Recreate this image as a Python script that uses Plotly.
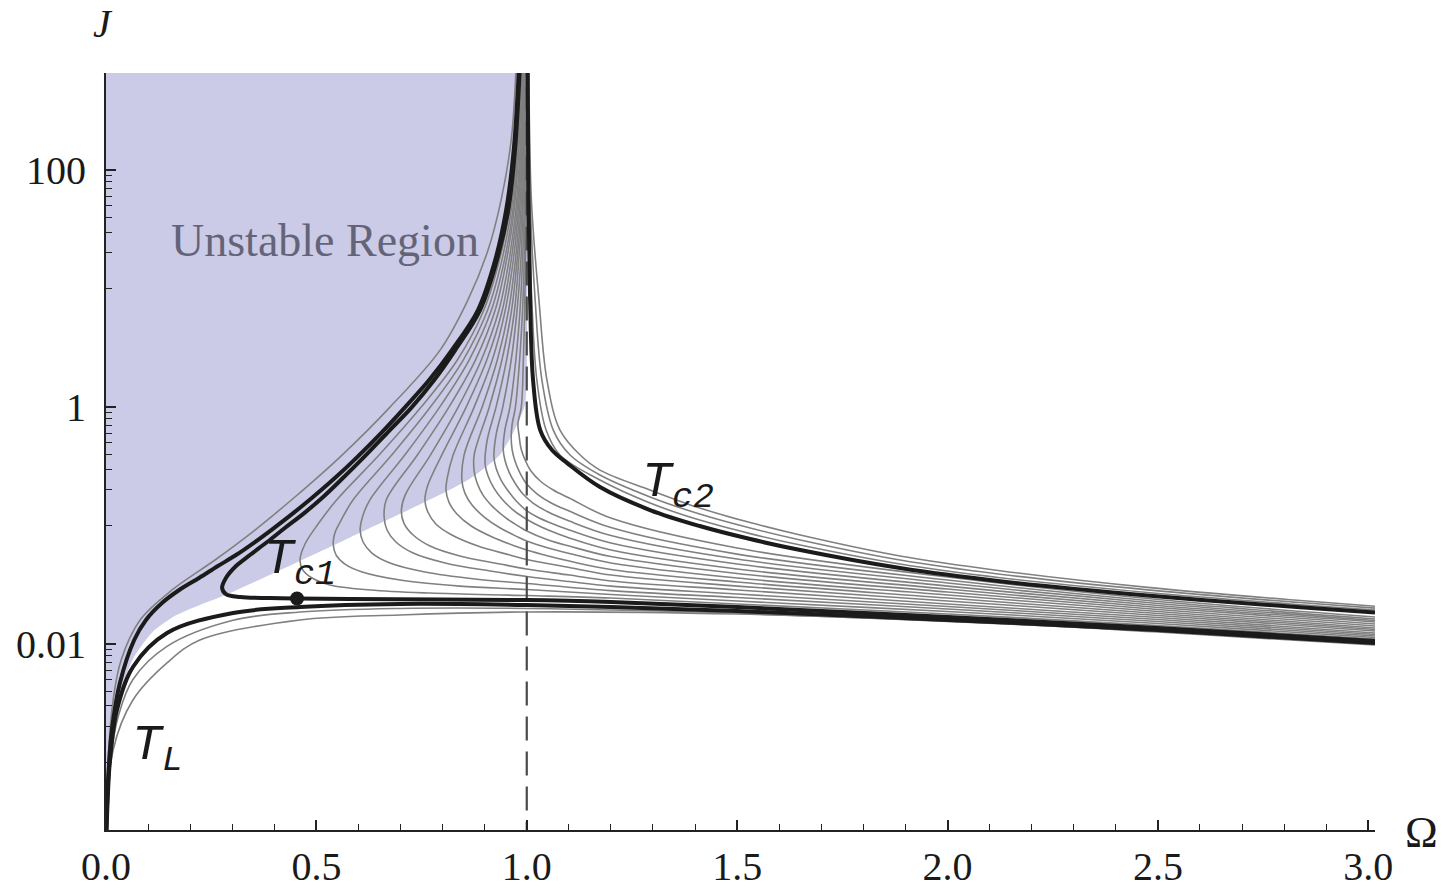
import plotly.graph_objects as go

# ---------------- data (Omega, log10 J) ----------------
# Shaded unstable region outline
unstable_omega = [0.0, 0.0, 0.010, 0.030, 0.065, 0.110, 0.165, 0.223, 0.288, 0.580, 0.858, 0.937, 0.977, 0.996, 1.0, 1.0]
unstable_log10J = [2.9, -3.25, -2.85, -2.45, -2.12, -1.90, -1.76, -1.67, -1.58, -1.10, -0.62, -0.40, -0.15, 0.02, 0.3, 2.9]

# T_L curve (thick): upper branch and lower branch, both from the origin
tl_up_omega = [0.982, 0.969, 0.951, 0.925, 0.884, 0.822, 0.768, 0.711, 0.656, 0.597, 0.544, 0.492, 0.445,
               0.399, 0.354, 0.309, 0.266, 0.221, 0.174, 0.133, 0.095, 0.067, 0.033, 0.014, 0.005, 0.0]
tl_up_log10J = [2.9, 2.169, 1.662, 1.241, 0.819, 0.481, 0.228, 0.0, -0.211, -0.422, -0.599, -0.759, -0.895,
                -1.021, -1.139, -1.249, -1.342, -1.443, -1.544, -1.654, -1.797, -1.966, -2.329, -2.726, -3.148, -3.7]
tl_low_omega = [0.0, 0.005, 0.0095, 0.026, 0.064, 0.145, 0.302, 0.461, 0.699, 1.0, 1.2, 1.5, 2.0, 2.5, 3.016]
tl_low_log10J = [-3.7, -3.232, -2.979, -2.557, -2.194, -1.907, -1.738, -1.688, -1.662, -1.671, -1.688, -1.722, -1.797, -1.882, -1.992]

# T_c1 curve (thick, C-shaped)
tc1_omega = [0.984, 0.972, 0.956, 0.929, 0.889, 0.830, 0.780, 0.727, 0.670, 0.613, 0.563, 0.516, 0.471, 0.425,
             0.383, 0.342, 0.309, 0.285, 0.276,
             0.285, 0.319, 0.390, 0.454, 0.580, 1.0, 1.2, 1.5, 2.0, 2.5, 3.016]
tc1_log10J = [2.9, 2.169, 1.662, 1.241, 0.819, 0.481, 0.228, 0.0, -0.211, -0.422, -0.599, -0.759, -0.895, -1.021,
              -1.139, -1.249, -1.342, -1.443, -1.527,
              -1.578, -1.603, -1.612, -1.616, -1.620, -1.629, -1.646, -1.688, -1.772, -1.865, -1.975]
tc1_point_omega = [0.454]
tc1_point_log10J = [-1.616]

# T_c2 curve (thick, right of Omega = 1)
tc2_omega = [1.002, 1.004, 1.008, 1.015, 1.032, 1.060, 1.096, 1.174, 1.293, 1.411, 1.531, 1.650, 1.887, 2.125, 2.482, 2.838, 3.016]
tc2_log10J = [2.9, 1.747, 0.903, 0.228, -0.194, -0.363, -0.473, -0.675, -0.869, -1.004, -1.114, -1.207, -1.359, -1.470, -1.592, -1.690, -1.735]

# gray curves from the origin
gup1_omega = [0.975, 0.963, 0.939, 0.908, 0.860, 0.794, 0.675, 0.556, 0.449, 0.354, 0.259, 0.157, 0.081, 0.036, 0.017, 0.005, 0.0]
gup1_log10J = [2.9, 2.253, 1.747, 1.325, 0.903, 0.481, 0.0, -0.422, -0.759, -1.038, -1.291, -1.544, -1.797, -2.135, -2.473, -2.979, -3.7]
glow1_omega = [0.0, 0.017, 0.064, 0.145, 0.223, 0.461, 0.699, 0.991, 1.5, 2.0, 2.5, 3.016]
glow1_log10J = [-3.7, -2.895, -2.473, -2.160, -1.966, -1.797, -1.755, -1.730, -1.747, -1.806, -1.899, -2.008]
glow2_omega = [0.0, 0.012, 0.03, 0.064, 0.145, 0.302, 0.461, 0.699, 1.0, 1.5, 2.0, 2.5, 3.016]
glow2_log10J = [-3.7, -2.95, -2.60, -2.30, -2.02, -1.80, -1.73, -1.70, -1.70, -1.74, -1.81, -1.89, -2.00]

# gray curves above T_c2
high_omega = [
    [1.003, 1.005, 1.012, 1.024, 1.046, 1.079, 1.174, 1.293, 1.411, 1.531, 1.650, 1.887, 2.125, 2.482, 2.838, 3.016],
    [1.004, 1.008, 1.020, 1.036, 1.063, 1.103, 1.174, 1.293, 1.411, 1.531, 1.650, 1.887, 2.125, 2.482, 2.838, 3.016],
    [1.005, 1.011, 1.029, 1.048, 1.079, 1.127, 1.174, 1.293, 1.411, 1.531, 1.650, 1.887, 2.125, 2.482, 2.838, 3.016],
]
high_log10J = [
    [2.9, 1.747, 0.903, 0.228, -0.194, -0.405, -0.616, -0.810, -0.954, -1.068, -1.165, -1.325, -1.440, -1.567, -1.668, -1.713],
    [2.9, 1.747, 0.903, 0.228, -0.194, -0.405, -0.574, -0.759, -0.903, -1.021, -1.122, -1.291, -1.411, -1.545, -1.650, -1.697],
    [2.9, 1.747, 0.903, 0.228, -0.194, -0.405, -0.532, -0.700, -0.852, -0.975, -1.080, -1.257, -1.381, -1.524, -1.633, -1.681],
]

# gray C-shaped curves between T_c1 and T_c2
mid_omega = [
    [0.986, 0.975, 0.959, 0.935, 0.898, 0.835, 0.749, 0.649, 0.548, 0.504, 0.473, 0.461, 0.468, 0.490, 0.532, 0.628, 0.770, 1.001, 1.2, 1.5, 2.0, 2.5, 3.016],
    [0.987, 0.977, 0.963, 0.941, 0.907, 0.849, 0.771, 0.679, 0.587, 0.559, 0.544, 0.540, 0.547, 0.568, 0.609, 0.699, 0.841, 1.0, 1.2, 1.5, 2.0, 2.5, 3.016],
    [0.988, 0.979, 0.967, 0.947, 0.916, 0.863, 0.793, 0.710, 0.627, 0.611, 0.604, 0.611, 0.632, 0.675, 0.758, 0.877, 1.0, 1.2, 1.5, 2.0, 2.5, 3.016],
    [0.989, 0.981, 0.970, 0.952, 0.925, 0.878, 0.815, 0.740, 0.666, 0.661, 0.668, 0.689, 0.730, 0.806, 0.913, 1.0, 1.101, 1.2, 1.5, 2.0, 2.5, 3.016],
    [0.991, 0.984, 0.974, 0.958, 0.934, 0.892, 0.837, 0.771, 0.711, 0.702, 0.708, 0.730, 0.770, 0.841, 0.937, 1.0, 1.101, 1.2, 1.5, 2.0, 2.5, 3.016],
    [0.992, 0.986, 0.977, 0.963, 0.942, 0.905, 0.856, 0.798, 0.765, 0.758, 0.765, 0.784, 0.822, 0.884, 0.960, 1.0, 1.101, 1.2, 1.5, 2.0, 2.5, 3.016],
    [0.993, 0.988, 0.980, 0.968, 0.949, 0.918, 0.875, 0.825, 0.811, 0.808, 0.815, 0.834, 0.868, 0.918, 0.972, 1.0, 1.051, 1.101, 1.2, 1.5, 2.0, 2.5, 3.016],
    [0.994, 0.990, 0.983, 0.973, 0.957, 0.930, 0.894, 0.851, 0.846, 0.853, 0.870, 0.899, 0.937, 0.979, 1.0, 1.051, 1.101, 1.2, 1.5, 2.0, 2.5, 3.016],
    [0.995, 0.991, 0.986, 0.977, 0.964, 0.941, 0.911, 0.875, 0.875, 0.882, 0.896, 0.920, 0.951, 0.984, 1.0, 1.051, 1.101, 1.2, 1.5, 2.0, 2.5, 3.016],
    [0.996, 0.993, 0.989, 0.981, 0.971, 0.952, 0.927, 0.906, 0.901, 0.908, 0.922, 0.941, 0.965, 0.991, 1.020, 1.051, 1.101, 1.2, 1.5, 2.0, 2.5, 3.016],
    [0.997, 0.995, 0.991, 0.986, 0.977, 0.963, 0.943, 0.927, 0.922, 0.927, 0.939, 0.956, 0.975, 0.998, 1.025, 1.051, 1.101, 1.2, 1.5, 2.0, 2.5, 3.016],
    [0.998, 0.996, 0.994, 0.990, 0.984, 0.974, 0.960, 0.948, 0.944, 0.948, 0.958, 0.972, 0.991, 1.015, 1.051, 1.101, 1.2, 1.5, 2.0, 2.5, 3.016],
    [0.999, 0.998, 0.996, 0.994, 0.990, 0.983, 0.973, 0.965, 0.963, 0.965, 0.972, 0.984, 1.0, 1.025, 1.058, 1.101, 1.2, 1.5, 2.0, 2.5, 3.016],
    [0.9997, 0.999, 0.999, 0.997, 0.995, 0.992, 0.987, 0.979, 0.982, 0.986, 0.996, 1.010, 1.032, 1.063, 1.101, 1.2, 1.5, 2.0, 2.5, 3.016],
]
mid_log10J = [
    [2.9, 2.169, 1.662, 1.241, 0.819, 0.397, 0.0, -0.405, -0.785, -0.987, -1.156, -1.291, -1.376, -1.443, -1.502, -1.544, -1.570, -1.591, -1.612, -1.662, -1.747, -1.844, -1.958],
    [2.9, 2.169, 1.662, 1.241, 0.819, 0.397, 0.0, -0.405, -0.785, -0.954, -1.063, -1.156, -1.249, -1.325, -1.392, -1.460, -1.511, -1.540, -1.582, -1.637, -1.726, -1.827, -1.945],
    [2.9, 2.169, 1.662, 1.241, 0.819, 0.397, 0.0, -0.405, -0.785, -0.911, -1.038, -1.139, -1.232, -1.316, -1.392, -1.451, -1.489, -1.549, -1.608, -1.705, -1.810, -1.932],
    [2.9, 2.169, 1.662, 1.241, 0.819, 0.397, 0.0, -0.405, -0.785, -0.928, -1.038, -1.139, -1.232, -1.316, -1.384, -1.430, -1.473, -1.511, -1.578, -1.684, -1.793, -1.920],
    [2.9, 2.169, 1.662, 1.241, 0.819, 0.397, 0.0, -0.405, -0.743, -0.878, -0.979, -1.080, -1.173, -1.257, -1.325, -1.367, -1.418, -1.468, -1.544, -1.662, -1.776, -1.907],
    [2.9, 2.169, 1.662, 1.241, 0.819, 0.397, 0.0, -0.405, -0.658, -0.785, -0.886, -0.987, -1.080, -1.173, -1.249, -1.287, -1.354, -1.418, -1.511, -1.637, -1.759, -1.890],
    [2.9, 2.169, 1.662, 1.241, 0.819, 0.397, 0.0, -0.405, -0.599, -0.700, -0.802, -0.903, -1.004, -1.097, -1.173, -1.207, -1.257, -1.300, -1.371, -1.477, -1.612, -1.743, -1.878],
    [2.9, 2.169, 1.662, 1.241, 0.819, 0.397, 0.0, -0.405, -0.624, -0.726, -0.827, -0.928, -1.021, -1.097, -1.131, -1.190, -1.236, -1.316, -1.443, -1.586, -1.726, -1.865],
    [2.9, 2.169, 1.662, 1.241, 0.819, 0.397, 0.0, -0.405, -0.540, -0.641, -0.743, -0.844, -0.937, -1.013, -1.046, -1.122, -1.173, -1.262, -1.405, -1.561, -1.709, -1.848],
    [2.9, 2.169, 1.662, 1.241, 0.819, 0.397, 0.0, -0.278, -0.481, -0.582, -0.684, -0.776, -0.861, -0.928, -0.987, -1.038, -1.105, -1.207, -1.367, -1.536, -1.692, -1.831],
    [2.9, 2.169, 1.662, 1.241, 0.819, 0.397, 0.0, -0.236, -0.422, -0.515, -0.616, -0.709, -0.793, -0.869, -0.928, -0.970, -1.038, -1.148, -1.325, -1.511, -1.675, -1.814],
    [2.9, 2.169, 1.662, 1.241, 0.819, 0.397, 0.0, -0.194, -0.354, -0.447, -0.549, -0.641, -0.734, -0.810, -0.886, -0.962, -1.084, -1.283, -1.485, -1.658, -1.802],
    [2.9, 2.169, 1.662, 1.241, 0.819, 0.397, 0.0, -0.152, -0.253, -0.354, -0.456, -0.557, -0.650, -0.734, -0.810, -0.878, -1.017, -1.241, -1.460, -1.641, -1.789],
    [2.9, 2.169, 1.662, 1.241, 0.819, 0.397, 0.0, -0.143, -0.245, -0.346, -0.447, -0.540, -0.624, -0.700, -0.768, -0.937, -1.190, -1.435, -1.624, -1.772],
]

# axes
x_tickvals = [0.0, 0.5, 1.0, 1.5, 2.0, 2.5, 3.0]
x_ticktext = ["0.0", "0.5", "1.0", "1.5", "2.0", "2.5", "3.0"]
x_minor = [0.1, 0.2, 0.3, 0.4, 0.6, 0.7, 0.8, 0.9, 1.1, 1.2, 1.3, 1.4, 1.6, 1.7, 1.8, 1.9,
           2.1, 2.2, 2.3, 2.4, 2.6, 2.7, 2.8, 2.9]
y_tickvals = [100, 1, 0.01]
y_ticktext = ["100", "1", "0.01"]
y_minor = [10, 20, 30, 40, 50, 60, 70, 80, 90,
           0.1, 0.2, 0.3, 0.4, 0.5, 0.6, 0.7, 0.8, 0.9,
           0.001, 0.002, 0.003, 0.004, 0.005, 0.006, 0.007, 0.008, 0.009]


def to_J(vals):
    return [10 ** v for v in vals]


GRAY = "rgb(128,128,128)"
BLACK = "#1b1b1b"
fig = go.Figure()

fig.add_trace(go.Scatter(x=unstable_omega, y=to_J(unstable_log10J), mode="lines", fill="toself",
                         fillcolor="rgb(204,203,231)", line=dict(width=0, shape="spline", smoothing=0.6),
                         hoverinfo="skip", showlegend=False))


def gray(xs, ys):
    fig.add_trace(go.Scatter(x=xs, y=to_J(ys), mode="lines",
                             line=dict(color=GRAY, width=1.6, shape="spline", smoothing=1.0),
                             hoverinfo="skip", showlegend=False))


for xs, ys in zip(mid_omega, mid_log10J):
    gray(xs, ys)
for xs, ys in zip(high_omega, high_log10J):
    gray(xs, ys)
gray(gup1_omega, gup1_log10J)
gray(glow1_omega, glow1_log10J)
gray(glow2_omega, glow2_log10J)

fig.add_trace(go.Scatter(x=[1.0, 1.0], y=to_J([-3.7, 2.9]), mode="lines",
                         line=dict(color="#4a4a4a", width=2.2, dash="24px,11px"),
                         hoverinfo="skip", showlegend=False))


def thick(xs, ys):
    fig.add_trace(go.Scatter(x=xs, y=to_J(ys), mode="lines",
                             line=dict(color=BLACK, width=4, shape="spline", smoothing=1.0),
                             hoverinfo="skip", showlegend=False))


thick(tl_up_omega, tl_up_log10J)
thick(tl_low_omega, tl_low_log10J)
thick(tc1_omega, tc1_log10J)
thick(tc2_omega, tc2_log10J)

fig.add_trace(go.Scatter(x=tc1_point_omega, y=to_J(tc1_point_log10J), mode="markers",
                         marker=dict(color=BLACK, size=14), hoverinfo="skip", showlegend=False))

axis_font = dict(family="Liberation Serif", size=40, color="#1a1a1a")
fig.update_layout(
    width=1444, height=890,
    margin=dict(l=106, r=69, t=73, b=60),
    plot_bgcolor="white", paper_bgcolor="white",
    showlegend=False,
    xaxis=dict(range=[0, 3.016], showgrid=False, zeroline=False, showline=True, automargin=False,
               linecolor="#222222", linewidth=2, ticks="inside", ticklen=10, tickwidth=1.5,
               tickcolor="#222222", tickmode="array", tickvals=x_tickvals, ticktext=x_ticktext,
               tickfont=axis_font, ticklabelstandoff=0,
               minor=dict(tickmode="array", tickvals=x_minor, ticks="inside", ticklen=6,
                          tickwidth=1.2, tickcolor="#222222")),
    yaxis=dict(type="log", range=[-3.57, 2.82], showgrid=False, zeroline=False, showline=True, automargin=False,
               linecolor="#222222", linewidth=2, ticks="inside", ticklen=10, tickwidth=1.5,
               tickcolor="#222222", tickmode="array", tickvals=y_tickvals, ticktext=y_ticktext,
               tickfont=axis_font, ticklabelstandoff=10,
               minor=dict(tickmode="array", tickvals=y_minor, ticks="inside", ticklen=6,
                          tickwidth=1.2, tickcolor="#222222")),
)

mono = dict(family="Liberation Mono", size=50, color="#1a1a1a")
fig.add_annotation(x=-0.002, y=1.066, xref="paper", yref="paper", text="<i>J</i>", showarrow=False,
                   xanchor="center", yanchor="middle",
                   font=dict(family="Liberation Serif", size=40, color="#1a1a1a"))
fig.add_annotation(x=1.037, y=-0.003, xref="paper", yref="paper", text="Ω", showarrow=False,
                   xanchor="center", yanchor="middle",
                   font=dict(family="Liberation Serif", size=44, color="#1a1a1a"))
fig.add_annotation(x=0.5206, y=1.409, xref="x", yref="y", text="Unstable Region", showarrow=False,
                   font=dict(family="Liberation Serif", size=46, color="#646478"))
fig.add_annotation(x=0.371, y=-1.316, xref="x", yref="y", text="<i>T</i><sub><i>c1</i></sub>",
                   showarrow=False, xanchor="left", font=mono)
fig.add_annotation(x=1.269, y=-0.667, xref="x", yref="y", text="<i>T</i><sub><i>c2</i></sub>",
                   showarrow=False, xanchor="left", font=mono)
fig.add_annotation(x=0.057, y=-2.886, xref="x", yref="y", text="<i>T</i><sub><i>L</i></sub>",
                   showarrow=False, xanchor="left", font=mono)

fig.write_html("out.html")
